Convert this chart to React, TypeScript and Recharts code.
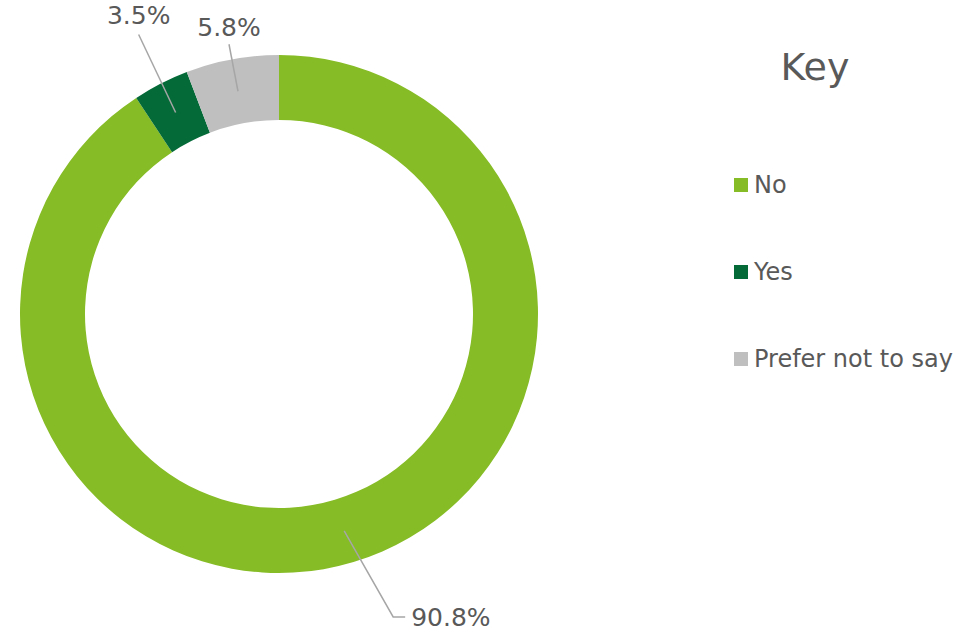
import { Cell, Legend, Pie, PieChart } from "recharts";

const categories = ["No", "Yes", "Prefer not to say"];
const values = [90.8, 3.5, 5.8];
const labels = ["90.8%", "3.5%", "5.8%"];
const COLORS = ["#86bc25", "#046a38", "#bfbfbf"];

// elbow / text placement relative to the leader line start (Excel-style)
const LABEL_LAYOUT = [
  { dx: 49, dy: 86, hx: 12, ty: 9, anchor: "start" },
  { dx: -37, dy: -78, hx: 0, ty: -10, anchor: "middle" },
  { dx: -9, dy: -47, hx: 0, ty: -8, anchor: "middle" },
];

const data = categories.map((name, i) => ({ name, value: values[i], label: labels[i] }));

const TEXT = "#595959";
const FONT = "'DejaVu Sans', Verdana, sans-serif";

function renderLabel(props: any) {
  const { cx, cy, midAngle, innerRadius, outerRadius, index } = props;
  const RAD = Math.PI / 180;
  const r = (innerRadius + outerRadius) / 2;
  const sx = cx + r * Math.cos(-midAngle * RAD);
  const sy = cy + r * Math.sin(-midAngle * RAD);
  const l = LABEL_LAYOUT[index];
  const ex = sx + l.dx;
  const ey = sy + l.dy;
  const hx = ex + l.hx;
  const points = l.hx ? `${sx},${sy} ${ex},${ey} ${hx},${ey}` : `${sx},${sy} ${ex},${ey}`;
  return (
    <g key={`lbl-${index}`}>
      <polyline points={points} fill="none" stroke="#a6a6a6" strokeWidth={1.5} />
      <text
        x={l.hx ? hx + 6 : ex}
        y={ey + l.ty}
        textAnchor={l.anchor as any}
        fill={TEXT}
        fontSize={25}
        fontFamily={FONT}
      >
        {data[index].label}
      </text>
    </g>
  );
}

function KeyLegend() {
  return (
    <div style={{ fontFamily: FONT, color: TEXT }}>
      <div style={{ fontSize: 38, width: 162, textAlign: "center", lineHeight: "46px" }}>Key</div>
      <div style={{ height: 51 }} />
      {data.map((d, i) => (
        <div key={d.name} style={{ display: "flex", alignItems: "center", height: 87 }}>
          <span style={{ width: 14, height: 14, background: COLORS[i], display: "inline-block", marginRight: 6 }} />
          <span style={{ fontSize: 24 }}>{d.name}</span>
        </div>
      ))}
    </div>
  );
}

export default function App() {
  return (
    <div style={{ position: "absolute", left: 0, top: 0, width: 977, height: 636, background: "#fff" }}>
      <PieChart width={977} height={636} margin={{ top: 0, right: 0, bottom: 0, left: 0 }}>
        <Pie
          data={data}
          dataKey="value"
          nameKey="name"
          cx={279}
          cy={314}
          innerRadius={194}
          outerRadius={259}
          startAngle={90}
          endAngle={-270}
          stroke="none"
          label={renderLabel}
          labelLine={false}
          isAnimationActive={false}
        >
          {data.map((_, i) => (
            <Cell key={i} fill={COLORS[i]} />
          ))}
        </Pie>
        <Legend
          content={() => <KeyLegend />}
          wrapperStyle={{ position: "absolute", left: 734, top: 44, width: 240 }}
        />
      </PieChart>
    </div>
  );
}
